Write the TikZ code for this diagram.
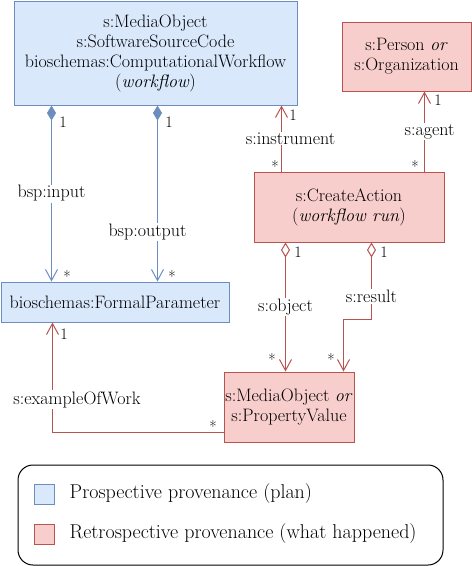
\documentclass[tikz,border=0pt]{standalone}
\usepackage{tikz}
\usetikzlibrary{arrows.meta,positioning}

\definecolor{planfill}{HTML}{DAE8FC}
\definecolor{plandraw}{HTML}{6C8EBF}
\definecolor{runfill}{HTML}{F8CECC}
\definecolor{rundraw}{HTML}{B85450}

\begin{document}
\begin{tikzpicture}[
  x=1pt, y=-1pt,
  every node/.style={font=\fontsize{18}{20}\selectfont},
  pblk/.style ={draw=plandraw, fill=planfill, line width=1pt,
                inner sep=0pt, align=center},
  rblk/.style ={draw=rundraw, fill=runfill, line width=1pt,
                inner sep=0pt, align=center},
  lbl/.style  ={fill=white, inner sep=1pt},
  mult/.style ={font=\fontsize{16}{18}\selectfont, inner sep=0pt},
  comp/.style ={draw=plandraw, line width=1pt,
                {Diamond[length=15pt,width=9pt]}-{Straight Barb[length=11pt,width=12pt]}},
  aggr/.style ={draw=rundraw, line width=1pt,
                {Diamond[open,length=15pt,width=9pt]}-{Straight Barb[length=11pt,width=12pt]}},
  assoc/.style={draw=rundraw, line width=1pt,
                -{Straight Barb[length=11pt,width=12pt]}},
  swatch/.style={minimum size=20pt, inner sep=0pt, line width=1pt},
  legtxt/.style={font=\fontsize{20}{22}\selectfont, inner sep=0pt}
]
\useasboundingbox (0,0) rectangle (472,566);

%% ---- classes --------------------------------------------------------
\node[pblk, minimum width=283, minimum height=104] (wf) at (155.5,53)
     {s:MediaObject\\s:SoftwareSourceCode\\bioschemas:ComputationalWorkflow\\(\textit{workflow})};
\node[pblk, minimum width=228, minimum height=40]  (fp) at (115,302)
     {bioschemas:FormalParameter};
\node[rblk, minimum width=129, minimum height=69]  (per) at (406.5,56.5)
     {s:Person \textit{or}\\s:Organization};
\node[rblk, minimum width=190, minimum height=70]  (ca) at (349,207)
     {s:CreateAction\\(\textit{workflow run})};
\node[rblk, minimum width=130, minimum height=70]  (mo) at (289,407)
     {s:MediaObject \textit{or}\\s:PropertyValue};

% connector ends
\coordinate (inS)  at ([xshift=38]wf.south west);
\coordinate (outS) at ([xshift=144]wf.south west);
\coordinate (insS) at ([xshift=28]ca.north west);
\coordinate (agS)  at ([xshift=171]ca.north west);
\coordinate (objS) at ([xshift=32]ca.south west);
\coordinate (resS) at ([xshift=118]ca.south west);
\coordinate (resE) at ([xshift=120]mo.north west);
\coordinate (exS)  at ([yshift=10]mo.south west);
\coordinate (exE)  at ([xshift=52]fp.south west);

%% ---- prospective links ----------------------------------------------
\draw[comp] (inS)  -- (inS |- fp.north)  node[lbl, midway] {bsp:input};
\draw[comp] (outS) -- (outS |- fp.north) node[lbl, pos=0.72, xshift=-10] {bsp:output};

%% ---- retrospective links --------------------------------------------
\draw[assoc] (insS) -- (insS |- wf.south) node[lbl, midway, xshift=9] {s:instrument};
\draw[assoc] (agS)  -- (agS |- per.south) node[lbl, midway, xshift=5] {s:agent};
\draw[aggr]  (objS) -- (objS |- mo.north) node[lbl, midway] {s:object};
\draw[aggr]  (resS) -- ++(0,77) node[lbl, pos=0.7] {s:result} -| (resE);
\draw[assoc] (exS)  -| (exE) node[lbl, pos=0.65, xshift=24.5] {s:exampleOfWork};

% multiplicities
\node[mult] (m1) at (63,122)  {1};
\node[mult] (m2) at (67,277)  {*};
\node[mult] (m3) at (169,122) {1};
\node[mult] (m4) at (172,277) {*};
\node[mult] (m5) at (293,115) {1};
\node[mult] (m6) at (275,167) {*};
\node[mult] (m7) at (438,100) {1};
\node[mult] (m8) at (415,167) {*};
\node[mult] (m9) at (298,252) {1};
\node[mult] (m10) at (272,360) {*};
\node[mult] (m11) at (384,252) {1};
\node[mult] (m12) at (331,360) {*};
\node[mult] (m13) at (64,334) {1};
\node[mult] (m14) at (213,427) {*};

%% ---- legend ---------------------------------------------------------
\node[draw, line width=1pt, rounded corners=15pt,
      minimum width=425, minimum height=100] (leg) at (230.5,515) {};
\node[swatch, draw=plandraw, fill=planfill] (swp) at (44,494) {};
\node[swatch, draw=rundraw, fill=runfill]   (swr) at (44,534) {};
\node[legtxt, right=15pt of swp] (lp) {Prospective provenance (plan)};
\node[legtxt, right=15pt of swr] (lr) {Retrospective provenance (what happened)};

\end{tikzpicture}
\end{document}
